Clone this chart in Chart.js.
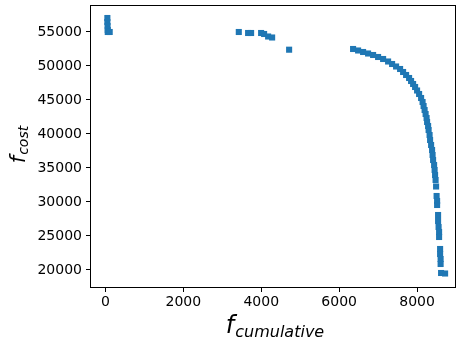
<!DOCTYPE html>
<html>
<head>
<meta charset="utf-8">
<script src="https://cdn.jsdelivr.net/npm/chart.js@4.4.1/dist/chart.umd.min.js"></script>
<style>
  html, body { margin: 0; padding: 0; background: #fff; }
  canvas { display: block; }
</style>
</head>
<body>
<canvas id="paretoCanvas" width="457" height="345"></canvas>
<script>
// f_cumulative values of the front
const cumulativeValues = [
  50, 50, 55, 60, 60, 110,
  3424, 3663, 3740, 3997, 4074, 4177, 4280, 4716,
  6358, 6487, 6615, 6743, 6872, 7000, 7129, 7257, 7360, 7462,
  7565, 7642, 7719, 7796, 7847, 7899, 7950, 8001, 8053, 8104,
  8142, 8168, 8194, 8220, 8245, 8258, 8284, 8297, 8322, 8335,
  8361, 8386, 8399, 8412, 8438, 8451, 8463, 8476, 8489,
  8502, 8515, 8515,
  8540, 8540, 8553, 8566, 8566,
  8592, 8592, 8605, 8605,
  8617, 8720
];
// f_cost values, same order
const costValues = [
  57059, 56471, 55882, 55294, 55000, 55000,
  55000, 54853, 54853, 54853, 54706, 54338, 54191, 52397,
  52500, 52280, 52059, 51838, 51618, 51324, 51029, 50662, 50294, 49927,
  49559, 49118, 48677, 48235, 47794, 47353, 46912, 46397, 45882, 45294,
  44706, 44118, 43529, 42941, 42353, 41765, 41176, 40588, 39853, 39118,
  38382, 37647, 36912, 36176, 35441, 34706, 33971, 33235, 32279,
  30882, 30147, 29559,
  28088, 27206, 26324, 25588, 24853,
  23088, 22353, 21618, 20882,
  19559, 19485
];

const xTicks = [0, 2000, 4000, 6000, 8000];
const yTicks = [20000, 25000, 30000, 35000, 40000, 45000, 50000, 55000];

const points = cumulativeValues.map((x, i) => ({ x: x, y: costValues[i] }));

// draws the frame and the mathtext-like axis labels
const framePlugin = {
  id: 'framePlugin',
  afterDraw(chart) {
    const ctx = chart.ctx;
    const a = chart.chartArea;
    ctx.save();
    ctx.strokeStyle = '#000';
    ctx.lineWidth = 1;
    ctx.strokeRect(Math.round(a.left) - 0.5, Math.round(a.top) + 0.5,
                   Math.round(a.right - a.left), Math.round(a.bottom - a.top));

    ctx.fillStyle = '#000';
    ctx.textBaseline = 'alphabetic';

    // x label: f_cumulative
    ctx.font = 'italic 24px "DejaVu Sans"';
    const fw = ctx.measureText('f').width;
    ctx.font = 'italic 16px "DejaVu Sans"';
    const sw = ctx.measureText('cumulative').width;
    let startX = (a.left + a.right) / 2 - (fw + sw) / 2 + 1;
    ctx.font = 'italic 24px "DejaVu Sans"';
    ctx.fillText('f', startX, 333);
    ctx.font = 'italic 16px "DejaVu Sans"';
    ctx.fillText('cumulative', startX + fw + 1, 337);

    // y label: f_cost (rotated)
    ctx.translate(25, 145);
    ctx.rotate(-Math.PI / 2);
    ctx.font = 'italic 21px "DejaVu Sans"';
    const fw2 = ctx.measureText('f').width;
    ctx.font = 'italic 14px "DejaVu Sans"';
    const sw2 = ctx.measureText('cost').width;
    const start2 = -(fw2 + sw2) / 2;
    ctx.font = 'italic 21px "DejaVu Sans"';
    ctx.fillText('f', start2, 0);
    ctx.font = 'italic 14px "DejaVu Sans"';
    ctx.fillText('cost', start2 + fw2 + 1, 3);
    ctx.restore();
  }
};

// no extra room for the outer tick labels, the plot box is fixed
function zeroPadding(scale) {
  scale.paddingTop = 0;
  scale.paddingBottom = 0;
  scale.paddingLeft = 0;
  scale.paddingRight = 0;
}

const ctxPareto = document.getElementById('paretoCanvas').getContext('2d');
new Chart(ctxPareto, {
  type: 'scatter',
  data: {
    datasets: [{
      data: points,
      pointStyle: 'rect',
      pointRadius: 4.3,
      pointHoverRadius: 4.3,
      backgroundColor: '#1f77b4',
      borderWidth: 0
    }]
  },
  options: {
    responsive: false,
    animation: false,
    layout: { autoPadding: false, padding: { top: 5, right: 1, left: 0, bottom: 0 } },
    plugins: {
      legend: { display: false },
      tooltip: { enabled: false }
    },
    scales: {
      x: {
        type: 'linear',
        min: -370,
        max: 9000,
        afterFit(scale) { scale.height = 58; zeroPadding(scale); },
        afterBuildTicks(scale) { scale.ticks = xTicks.map(v => ({ value: v })); },
        border: { display: false },
        grid: { drawOnChartArea: false, drawTicks: true, tickLength: 5, tickColor: '#000', lineWidth: 1 },
        ticks: {
          color: '#000',
          padding: 2,
          maxRotation: 0,
          font: { family: '"DejaVu Sans"', size: 14 },
          callback: v => String(v)
        }
      },
      y: {
        type: 'linear',
        min: 17500,
        max: 58970,
        afterFit(scale) { scale.width = 91; zeroPadding(scale); },
        afterBuildTicks(scale) { scale.ticks = yTicks.map(v => ({ value: v })); },
        border: { display: false },
        grid: { drawOnChartArea: false, drawTicks: true, tickLength: 5, tickColor: '#000', lineWidth: 1 },
        ticks: {
          color: '#000',
          padding: 4,
          font: { family: '"DejaVu Sans"', size: 14 },
          callback: v => String(v)
        }
      }
    }
  },
  plugins: [framePlugin]
});
</script>
</body>
</html>
